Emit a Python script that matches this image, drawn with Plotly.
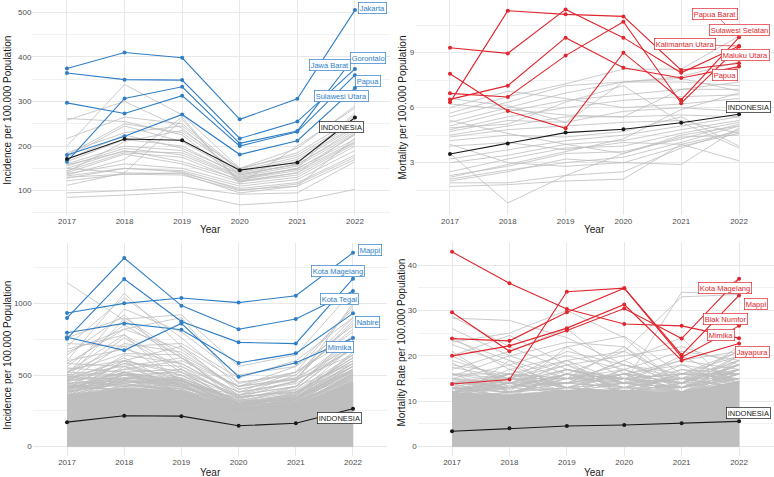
import plotly.graph_objects as go

years = [2017, 2018, 2019, 2020, 2021, 2022]

# ---------------- Panel A: province incidence ----------------
inc_prov_national = [171, 216, 213, 146, 163, 264]
inc_prov_names = ["Jakarta", "Jawa Barat", "Gorontalo", "Papua", "Sulawesi Utara"]
inc_prov_top = [
    [374, 410, 398, 260, 306, 505],
    [364, 349, 348, 217, 255, 373],
    [165, 307, 333, 206, 234, 401],
    [297, 273, 313, 200, 232, 359],
    [180, 222, 271, 181, 212, 330],
]
inc_prov_other = [
    [85, 90, 97, 68, 76, 103],
    [95, 100, 108, 92, 95, 165],
    [112, 140, 138, 95, 110, 170],
    [122, 137, 135, 100, 115, 175],
    [130, 137, 140, 105, 118, 180],
    [133, 150, 145, 110, 125, 190],
    [138, 160, 150, 115, 130, 200],
    [140, 182, 160, 120, 135, 205],
    [145, 185, 175, 122, 140, 208],
    [150, 190, 165, 125, 145, 210],
    [155, 195, 180, 128, 150, 215],
    [158, 188, 185, 130, 148, 225],
    [160, 200, 190, 132, 155, 228],
    [165, 215, 200, 135, 160, 232],
    [170, 225, 195, 138, 158, 238],
    [175, 245, 210, 140, 165, 242],
    [180, 250, 230, 142, 170, 245],
    [185, 230, 245, 145, 175, 250],
    [200, 338, 270, 150, 180, 255],
    [217, 265, 250, 148, 185, 262],
    [258, 300, 240, 135, 160, 270],
    [262, 255, 225, 125, 150, 275],
    [150, 140, 260, 120, 140, 228],
    [135, 170, 265, 115, 200, 285],
    [128, 150, 142, 102, 110, 218],
    [142, 210, 235, 150, 195, 290],
]

# ---------------- Panel B: province mortality ----------------
mort_prov_national = [3.47, 4.04, 4.64, 4.82, 5.18, 5.64]
mort_prov_names = ["Kalimantan Utara", "Maluku Utara", "Papua", "Sulawesi Selatan", "Papua Barat"]
mort_prov_top = [
    [9.27, 8.96, 11.36, 9.82, 7.90, 9.36],
    [6.29, 11.29, 11.09, 10.98, 8.05, 8.42],
    [6.45, 7.20, 9.82, 8.18, 7.62, 8.24],
    [6.78, 6.58, 8.84, 10.69, 6.24, 9.33],
    [7.85, 5.82, 4.87, 9.00, 6.42, 9.84],
]
mort_prov_other = [
    [3.5, 0.8, 2.3, 3.5, 4.5, 5.0],
    [1.7, 1.8, 2.0, 2.1, 4.0, 4.7],
    [1.9, 1.9, 2.3, 2.5, 3.8, 4.8],
    [2.0, 2.5, 3.2, 3.0, 2.9, 4.9],
    [2.1, 2.6, 3.0, 3.3, 4.1, 5.0],
    [2.3, 2.8, 3.5, 3.6, 4.3, 5.1],
    [2.5, 3.2, 3.8, 3.9, 4.6, 5.2],
    [3.0, 3.4, 4.0, 4.2, 4.8, 5.3],
    [3.2, 3.7, 4.2, 4.5, 5.0, 5.5],
    [3.9, 4.1, 3.7, 4.1, 4.0, 3.1],
    [4.2, 4.5, 4.4, 4.7, 5.5, 3.9],
    [4.4, 4.8, 5.0, 5.2, 5.3, 4.6],
    [4.5, 5.0, 5.5, 5.5, 5.6, 5.5],
    [4.7, 5.3, 5.2, 5.8, 6.0, 5.8],
    [4.8, 5.5, 6.0, 6.4, 6.6, 6.7],
    [5.0, 5.8, 6.4, 6.7, 7.0, 7.0],
    [5.2, 6.0, 6.8, 7.4, 7.4, 7.2],
    [5.5, 6.3, 7.2, 7.4, 7.6, 6.9],
    [5.7, 6.6, 7.3, 8.1, 8.1, 9.9],
    [6.0, 6.9, 6.5, 6.0, 6.2, 6.5],
    [6.2, 5.9, 5.6, 5.5, 7.0, 7.4],
    [6.5, 6.1, 5.2, 7.4, 7.7, 8.5],
    [5.3, 4.6, 4.0, 3.5, 4.4, 4.5],
    [4.0, 3.0, 2.8, 3.0, 3.9, 4.6],
    [2.2, 2.9, 3.6, 4.3, 5.9, 6.8],
    [4.9, 5.1, 6.3, 7.2, 5.2, 3.8],
]

# ---------------- Panel C: district incidence ----------------
inc_dist_national = [171, 216, 213, 146, 163, 264]
inc_dist_names = ["Mappi", "Kota Magelang", "Kota Tegal", "Nabire", "Mimika"]
inc_dist_top = [
    [933, 1000, 1037, 1005, 1053, 1353],
    [753, 1170, 874, 728, 719, 1172],
    [898, 1316, 984, 819, 891, 1086],
    [795, 860, 816, 584, 651, 930],
    [763, 672, 860, 488, 586, 758],
]
# solid envelope of the hundreds of overlapping district lines
inc_dist_mass_top = [360, 410, 390, 265, 295, 450]
inc_dist_mass_bottom = [0, 0, 0, 0, 0, 0]
inc_dist_other = [
    [1144, 880, 620, 420, 480, 700],
    [600, 1070, 700, 450, 500, 820],
    [700, 1040, 760, 420, 470, 880],
    [500, 960, 800, 500, 560, 960],
    [640, 920, 560, 380, 450, 1000],
    [480, 890, 920, 560, 640, 1090],
    [560, 850, 620, 360, 420, 760],
    [720, 700, 720, 480, 600, 900],
    [660, 820, 900, 440, 520, 980],
    [520, 780, 540, 340, 400, 700],
    [450, 720, 660, 400, 480, 860],
    [600, 680, 580, 380, 520, 800],
    [520, 650, 640, 300, 360, 640],
    [470, 600, 500, 350, 380, 600],
    [430, 580, 560, 330, 420, 740],
    [580, 560, 480, 300, 340, 580],
    [480, 540, 600, 420, 560, 840],
    [420, 520, 440, 280, 320, 560],
    [500, 500, 520, 360, 460, 680],
    [440, 480, 460, 310, 370, 620],
    [400, 460, 420, 270, 300, 540],
    [460, 620, 420, 260, 330, 660],
    [380, 440, 480, 320, 400, 720],
    [540, 600, 700, 380, 440, 680],
    [410, 500, 380, 300, 340, 520],
    [350, 480, 440, 250, 300, 500],
    [490, 440, 380, 270, 290, 480],
    [360, 420, 500, 290, 350, 560],
    [330, 460, 400, 240, 280, 460],
    [420, 400, 360, 250, 330, 520],
    [520, 700, 460, 320, 380, 620],
    [470, 760, 520, 300, 420, 780],
    [580, 820, 680, 400, 470, 640],
    [400, 640, 580, 360, 500, 900],
    [350, 560, 620, 340, 460, 760],
    [760, 900, 640, 420, 520, 760],
    [680, 780, 440, 360, 420, 580],
    [300, 520, 540, 280, 380, 600],
    [440, 380, 460, 330, 300, 500],
    [380, 600, 360, 280, 360, 700],
    [420, 470, 430, 300, 330, 500],
    [380, 500, 460, 290, 310, 480],
    [450, 430, 400, 280, 350, 540],
    [360, 450, 470, 270, 300, 470],
    [400, 520, 410, 310, 320, 460],
    [340, 410, 430, 260, 290, 510],
    [470, 480, 450, 290, 340, 560],
    [390, 440, 390, 300, 310, 450],
    [350, 470, 420, 270, 330, 520],
    [430, 420, 470, 260, 300, 490],
    [370, 520, 380, 280, 340, 530],
    [410, 450, 440, 250, 320, 470],
    [350, 390, 410, 300, 300, 500],
    [460, 510, 400, 270, 280, 450],
    [380, 460, 450, 290, 350, 580],
    [330, 430, 390, 260, 310, 490],
    [420, 400, 420, 280, 290, 460],
    [400, 480, 470, 300, 330, 540],
    [360, 500, 430, 250, 300, 480],
    [440, 460, 380, 260, 320, 510],
    [500, 560, 420, 290, 360, 600],
    [520, 500, 480, 320, 330, 560],
    [450, 580, 460, 280, 310, 530],
    [390, 540, 500, 300, 370, 620],
    [470, 420, 440, 340, 390, 640],
    [550, 520, 460, 300, 340, 540],
    [360, 600, 520, 310, 360, 580],
    [490, 470, 540, 350, 380, 560],
]

# ---------------- Panel D: district mortality ----------------
mort_dist_national = [3.40, 4.04, 4.55, 4.77, 5.14, 5.58]
mort_dist_names = ["Mimika", "Kota Magelang", "Mappi", "Jayapura", "Biak Numfor"]
mort_dist_top = [
    [42.9, 36.0, 30.3, 27.0, 26.6, 23.9],
    [29.6, 21.0, 25.6, 30.4, 23.8, 37.0],
    [23.8, 23.3, 29.6, 34.9, 20.2, 33.3],
    [20.0, 22.2, 26.1, 31.3, 19.0, 22.7],
    [13.8, 14.8, 34.1, 34.9, 19.7, 26.6],
]
mort_dist_mass_top = [12.0, 11.5, 12.5, 12.5, 12.0, 14.5]
mort_dist_mass_bottom = [0, 0, 0, 0, 0, 0]
mort_dist_other = [
    [28.7, 22, 17, 15, 13, 16],
    [28.3, 27.8, 24, 18, 14, 18],
    [23, 25, 30, 24, 13, 20],
    [22.5, 18, 22, 24.3, 16, 15],
    [20, 24.5, 18, 14, 34, 33.6],
    [18, 16, 19, 21, 33, 33.5],
    [15.5, 20, 23, 22, 14, 12],
    [23.5, 19, 15, 17, 12, 14],
    [17, 21, 26, 16, 18, 13],
    [19, 15, 18, 20, 22, 18],
    [14, 16, 14, 19, 24, 12],
    [16, 14, 17, 13, 16, 21],
    [12, 17, 20, 17, 13, 15],
    [21, 13, 16, 15, 19, 17],
    [13, 12, 15, 18, 15, 19],
    [11, 14, 12, 14, 17, 16],
    [15, 18, 13, 12, 14, 20],
    [18.5, 12, 14, 16, 11, 17],
    [12, 15, 19, 14, 12, 14],
    [14.5, 13, 16, 21, 15, 13],
    [10, 19, 12, 13, 18, 16],
    [13, 11, 17, 15, 14, 22],
    [11, 13, 14, 19, 13, 15],
    [16, 16, 12, 14, 20, 14],
    [12.5, 14, 18, 12, 16, 18],
    [24, 17, 13, 16, 12, 15],
    [10.5, 12, 22, 15, 13, 17],
    [14, 10.5, 13, 17, 21, 19],
    [20, 14, 11, 13, 15, 21],
    [11.5, 16, 15, 22, 12, 16],
    [13.5, 12.5, 19, 11, 17, 14],
    [17.5, 15, 12, 15, 14, 18],
    [12, 13.5, 14, 16, 19, 21],
    [15, 11.5, 16, 12, 13, 16],
    [26, 20, 16, 14, 15, 13],
    [11, 15, 21, 18, 16, 20],
    [12, 13, 14, 13, 12, 15],
    [13, 12, 13, 14, 13, 16],
    [11, 14, 15, 12, 14, 17],
    [14, 13, 12, 15, 12, 16],
    [12, 15, 13, 14, 15, 15],
    [13, 11, 16, 13, 13, 18],
    [15, 14, 14, 16, 14, 15],
    [11, 12, 15, 15, 12, 17],
    [14, 15, 13, 12, 16, 16],
    [12, 13, 17, 14, 13, 18],
    [16, 12, 14, 13, 15, 17],
    [13, 16, 15, 16, 14, 19],
    [12, 14, 12, 17, 13, 15],
    [15, 13, 16, 13, 12, 17],
    [11, 15, 14, 15, 16, 16],
    [13, 12, 13, 12, 14, 18],
    [14, 14, 17, 14, 13, 17],
    [12, 16, 13, 16, 15, 16],
    [16, 15, 15, 14, 12, 19],
    [13, 13, 16, 15, 16, 15],
]

# ---------------- styling / layout ----------------
W, H = 774, 477
BLUE = "#2f7ec6"
RED = "#e0262e"
GRAY = "#bebebe"
BLACK = "#1a1a1a"
FONT = "Liberation Sans, Arial, sans-serif"

fig = go.Figure()


def add_panel(ax, other, top, national, color, mass_top=None, mass_bottom=None):
    xa = "x" if ax == 1 else f"x{ax}"
    ya = "y" if ax == 1 else f"y{ax}"
    if mass_top is not None:
        fig.add_trace(go.Scatter(
            x=years + years[::-1], y=mass_top + mass_bottom[::-1],
            fill="toself", fillcolor=GRAY, line=dict(width=0.6, color=GRAY),
            mode="lines", hoverinfo="skip", showlegend=False, xaxis=xa, yaxis=ya))
    for s in other:
        fig.add_trace(go.Scatter(x=years, y=s, mode="lines",
                                 line=dict(color=GRAY, width=0.8),
                                 hoverinfo="skip", showlegend=False, xaxis=xa, yaxis=ya))
    for s in top:
        fig.add_trace(go.Scatter(x=years, y=s, mode="lines+markers",
                                 line=dict(color=color, width=1.1),
                                 marker=dict(color=color, size=4),
                                 showlegend=False, xaxis=xa, yaxis=ya))
    fig.add_trace(go.Scatter(x=years, y=national, mode="lines+markers",
                             line=dict(color=BLACK, width=1.1),
                             marker=dict(color=BLACK, size=4),
                             showlegend=False, xaxis=xa, yaxis=ya))


add_panel(1, inc_prov_other, inc_prov_top, inc_prov_national, BLUE)
add_panel(2, mort_prov_other, mort_prov_top, mort_prov_national, RED)
add_panel(3, inc_dist_other, inc_dist_top, inc_dist_national, BLUE,
          inc_dist_mass_top, inc_dist_mass_bottom)
add_panel(4, mort_dist_other, mort_dist_top, mort_dist_national, RED,
          mort_dist_mass_top, mort_dist_mass_bottom)

# pixel geometry of panels: (left, right, top, bottom), y-range, dtick
panels = {
    1: dict(px=(32.4, 389.5, 0.3, 214.6), yr=[46.3, 527.0], dt=100, mdt=50),
    2: dict(px=(415.3, 773.7, 0.3, 214.6), yr=[0.166, 11.857], dt=3, mdt=1.5),
    3: dict(px=(32.7, 387.3, 243.0, 456.4), yr=[-67.9, 1421], dt=500, mdt=250),
    4: dict(px=(417.6, 773.5, 242.2, 456.4), yr=[-2.14, 45.02], dt=10, mdt=5),
}
tickfont = dict(family=FONT, size=8, color="#4d4d4d")
grid = "#e8e8e8"
for k, p in panels.items():
    l, r, t, b = p["px"]
    xk = "xaxis" if k == 1 else f"xaxis{k}"
    yk = "yaxis" if k == 1 else f"yaxis{k}"
    anchor_x = "y" if k == 1 else f"y{k}"
    anchor_y = "x" if k == 1 else f"x{k}"
    fig.layout[xk] = dict(domain=[l / W, r / W], range=[2016.4, 2022.6],
                          tickvals=years, ticktext=[str(y) for y in years],
                          showgrid=True, gridcolor=grid, gridwidth=1,
                          zeroline=False, showline=False, ticks="",
                          tickfont=tickfont, anchor=anchor_x, fixedrange=True)
    fig.layout[yk] = dict(domain=[1 - b / H, 1 - t / H], range=p["yr"],
                          tick0=0, dtick=p["dt"], showgrid=True, gridcolor=grid,
                          gridwidth=1, zeroline=False, showline=False, ticks="",
                          minor=dict(dtick=p["mdt"], tick0=0, showgrid=True,
                                     gridcolor="#f1f1f1", gridwidth=0.6),
                          tickfont=tickfont, anchor=anchor_y, fixedrange=True)

annotations = []


def paper_text(text, xpx, ypx, angle=0, size=10):
    annotations.append(dict(text=text, x=xpx / W, y=1 - ypx / H, xref="paper", yref="paper",
                            showarrow=False, textangle=angle, xanchor="center",
                            yanchor="middle", font=dict(family=FONT, size=size, color="#1a1a1a")))


paper_text("Year", 210.7, 230)
paper_text("Year", 594, 230)
paper_text("Year", 210, 472)
paper_text("Year", 594, 472)
paper_text("Incidence per 100.000 Population", 6.7, 110, -90)
paper_text("Mortality per 100.000 Population", 401.5, 107, -90)
paper_text("Incidence per 100.000 Population", 6.7, 355, -90)
paper_text("Mortality Rate per 100.000 Population", 400.5, 343, -90)


def label(ax, text, color, lx, ly, px=None, py=None):
    xa = "x" if ax == 1 else f"x{ax}"
    ya = "y" if ax == 1 else f"y{ax}"
    a = dict(text=text, font=dict(family=FONT, size=7.5, color=color),
             bgcolor="white", bordercolor=color, borderwidth=0.7, borderpad=1,
             xref=xa, yref=ya)
    if px is None:
        a.update(x=lx, y=ly, showarrow=False)
    else:
        a.update(x=px, y=py, ax=lx, ay=ly, axref=xa, ayref=ya, showarrow=True,
                 arrowhead=0, arrowwidth=0.7, arrowcolor=color, standoff=1)
    annotations.append(a)


# label positions (label centres, year / value units)
label(1, "Jakarta", BLUE, 2022.30, 510)
label(1, "Gorontalo", BLUE, 2022.23, 398)
label(1, "Jawa Barat", BLUE, 2021.57, 383)
label(1, "Papua", BLUE, 2022.22, 347)
label(1, "Sulawesi Utara", BLUE, 2021.77, 312)
label(1, "INDONESIA", BLACK, 2021.76, 243)

label(2, "Papua Barat", RED, 2021.58, 11.09, 2022, mort_prov_top[4][5])
label(2, "Sulawesi Selatan", RED, 2022.00, 10.24)
label(2, "Kalimantan Utara", RED, 2021.07, 9.45, 2022, mort_prov_top[0][5])
label(2, "Maluku Utara", RED, 2022.11, 8.87)
label(2, "Papua", RED, 2021.76, 7.76, 2022, mort_prov_top[2][5])
label(2, "INDONESIA", BLACK, 2022.16, 6.05)

label(3, "Mappi", BLUE, 2022.29, 1370)
label(3, "Kota Magelang", BLUE, 2021.74, 1226)
label(3, "Kota Tegal", BLUE, 2021.77, 1030)
label(3, "Nabire", BLUE, 2022.25, 872)
label(3, "Mimika", BLUE, 2021.77, 698)
label(3, "INDONESIA", BLACK, 2021.77, 202)

label(4, "Kota Magelang", RED, 2021.76, 35.0, 2022, mort_dist_top[1][5])
label(4, "Mappi", RED, 2022.29, 31.5)
label(4, "Biak Numfor", RED, 2021.77, 28.1, 2022, mort_dist_top[4][5])
label(4, "Mimika", RED, 2021.69, 24.6, 2022, mort_dist_top[0][5])
label(4, "Jayapura", RED, 2022.24, 20.8)
label(4, "INDONESIA", BLACK, 2022.16, 7.34)

fig.update_layout(width=W, height=H, margin=dict(l=0, r=0, t=0, b=0),
                  paper_bgcolor="white", plot_bgcolor="white",
                  annotations=annotations, showlegend=False,
                  font=dict(family=FONT))
fig.write_html("out.html", config={"displayModeBar": False})
